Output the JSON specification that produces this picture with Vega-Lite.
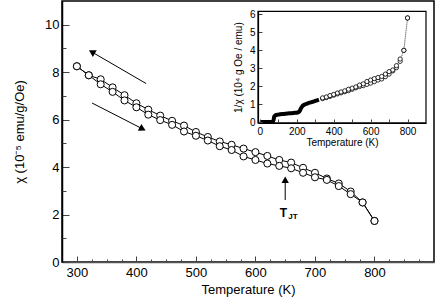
{
  "$schema": "https://vega.github.io/schema/vega-lite/v6.json",
  "width": 372,
  "height": 261,
  "autosize": "none",
  "padding": {"left": 62, "top": 1, "right": 2, "bottom": 37},
  "background": "white",
  "config": {
    "view": {"stroke": "black", "strokeWidth": 1.5},
    "font": "Liberation Sans",
    "axis": {"grid": false, "domainColor": "black", "tickColor": "#444", "labelColor": "black", "titleColor": "black", "titleFontWeight": "normal", "labelOverlap": false, "labelFlush": false}
  },
  "datasets": {
    "main": [
      {"T": 300, "chi": 8.25, "branch": "cooling"},
      {"T": 320, "chi": 7.87, "branch": "cooling"},
      {"T": 340, "chi": 7.70, "branch": "cooling"},
      {"T": 360, "chi": 7.36, "branch": "cooling"},
      {"T": 380, "chi": 7.03, "branch": "cooling"},
      {"T": 400, "chi": 6.69, "branch": "cooling"},
      {"T": 420, "chi": 6.42, "branch": "cooling"},
      {"T": 440, "chi": 6.17, "branch": "cooling"},
      {"T": 460, "chi": 5.95, "branch": "cooling"},
      {"T": 480, "chi": 5.75, "branch": "cooling"},
      {"T": 500, "chi": 5.48, "branch": "cooling"},
      {"T": 520, "chi": 5.27, "branch": "cooling"},
      {"T": 540, "chi": 5.08, "branch": "cooling"},
      {"T": 560, "chi": 4.94, "branch": "cooling"},
      {"T": 580, "chi": 4.78, "branch": "cooling"},
      {"T": 600, "chi": 4.63, "branch": "cooling"},
      {"T": 620, "chi": 4.47, "branch": "cooling"},
      {"T": 640, "chi": 4.30, "branch": "cooling"},
      {"T": 660, "chi": 4.19, "branch": "cooling"},
      {"T": 680, "chi": 3.97, "branch": "cooling"},
      {"T": 700, "chi": 3.76, "branch": "cooling"},
      {"T": 720, "chi": 3.52, "branch": "cooling"},
      {"T": 740, "chi": 3.31, "branch": "cooling"},
      {"T": 760, "chi": 2.97, "branch": "cooling"},
      {"T": 780, "chi": 2.51, "branch": "cooling"},
      {"T": 800, "chi": 1.73, "branch": "cooling"},
      {"T": 300, "chi": 8.25, "branch": "heating"},
      {"T": 320, "chi": 7.87, "branch": "heating"},
      {"T": 340, "chi": 7.49, "branch": "heating"},
      {"T": 360, "chi": 7.17, "branch": "heating"},
      {"T": 380, "chi": 6.81, "branch": "heating"},
      {"T": 400, "chi": 6.52, "branch": "heating"},
      {"T": 420, "chi": 6.21, "branch": "heating"},
      {"T": 440, "chi": 5.98, "branch": "heating"},
      {"T": 460, "chi": 5.78, "branch": "heating"},
      {"T": 480, "chi": 5.50, "branch": "heating"},
      {"T": 500, "chi": 5.32, "branch": "heating"},
      {"T": 520, "chi": 5.12, "branch": "heating"},
      {"T": 540, "chi": 4.88, "branch": "heating"},
      {"T": 560, "chi": 4.72, "branch": "heating"},
      {"T": 580, "chi": 4.45, "branch": "heating"},
      {"T": 600, "chi": 4.30, "branch": "heating"},
      {"T": 620, "chi": 4.15, "branch": "heating"},
      {"T": 640, "chi": 4.05, "branch": "heating"},
      {"T": 660, "chi": 3.95, "branch": "heating"},
      {"T": 680, "chi": 3.76, "branch": "heating"},
      {"T": 700, "chi": 3.57, "branch": "heating"},
      {"T": 720, "chi": 3.46, "branch": "heating"},
      {"T": 740, "chi": 3.20, "branch": "heating"},
      {"T": 760, "chi": 2.86, "branch": "heating"},
      {"T": 780, "chi": 2.51, "branch": "heating"},
      {"T": 800, "chi": 1.73, "branch": "heating"}
    ],
    "arrows": [
      {"T": 416.4, "chi": 7.52, "T2": 326, "chi2": 8.84},
      {"T": 325.5, "chi": 6.70, "T2": 409.6, "chi2": 5.62},
      {"T": 650, "chi": 2.61, "T2": 650, "chi2": 3.42}
    ],
    "dense": [
      {"T": 0, "inv": 0}, {"T": 20, "inv": 0}, {"T": 40, "inv": 0}, {"T": 60, "inv": 0},
      {"T": 70, "inv": 0.02}, {"T": 74, "inv": 0.1}, {"T": 78, "inv": 0.3}, {"T": 84, "inv": 0.37},
      {"T": 100, "inv": 0.41}, {"T": 130, "inv": 0.45}, {"T": 160, "inv": 0.48}, {"T": 190, "inv": 0.51},
      {"T": 205, "inv": 0.53}, {"T": 215, "inv": 0.6}, {"T": 222, "inv": 0.75}, {"T": 230, "inv": 0.88},
      {"T": 240, "inv": 0.96}, {"T": 260, "inv": 1.04}, {"T": 280, "inv": 1.1}, {"T": 300, "inv": 1.17},
      {"T": 320, "inv": 1.24}
    ],
    "inverse": [
      {"T": 340, "inv": 1.30, "branch": "cooling"}, {"T": 360, "inv": 1.36, "branch": "cooling"},
      {"T": 380, "inv": 1.42, "branch": "cooling"}, {"T": 400, "inv": 1.49, "branch": "cooling"},
      {"T": 420, "inv": 1.56, "branch": "cooling"}, {"T": 440, "inv": 1.62, "branch": "cooling"},
      {"T": 460, "inv": 1.68, "branch": "cooling"}, {"T": 480, "inv": 1.74, "branch": "cooling"},
      {"T": 500, "inv": 1.82, "branch": "cooling"}, {"T": 520, "inv": 1.90, "branch": "cooling"},
      {"T": 540, "inv": 1.97, "branch": "cooling"}, {"T": 560, "inv": 2.02, "branch": "cooling"},
      {"T": 580, "inv": 2.09, "branch": "cooling"}, {"T": 600, "inv": 2.16, "branch": "cooling"},
      {"T": 620, "inv": 2.24, "branch": "cooling"}, {"T": 640, "inv": 2.33, "branch": "cooling"},
      {"T": 660, "inv": 2.39, "branch": "cooling"}, {"T": 680, "inv": 2.52, "branch": "cooling"},
      {"T": 700, "inv": 2.66, "branch": "cooling"}, {"T": 720, "inv": 2.84, "branch": "cooling"},
      {"T": 740, "inv": 3.02, "branch": "cooling"}, {"T": 760, "inv": 3.37, "branch": "cooling"},
      {"T": 780, "inv": 3.98, "branch": "cooling"}, {"T": 800, "inv": 5.78, "branch": "cooling"},
      {"T": 340, "inv": 1.34, "branch": "heating"}, {"T": 360, "inv": 1.39, "branch": "heating"},
      {"T": 380, "inv": 1.47, "branch": "heating"}, {"T": 400, "inv": 1.53, "branch": "heating"},
      {"T": 420, "inv": 1.61, "branch": "heating"}, {"T": 440, "inv": 1.67, "branch": "heating"},
      {"T": 460, "inv": 1.73, "branch": "heating"}, {"T": 480, "inv": 1.82, "branch": "heating"},
      {"T": 500, "inv": 1.88, "branch": "heating"}, {"T": 520, "inv": 1.95, "branch": "heating"},
      {"T": 540, "inv": 2.05, "branch": "heating"}, {"T": 560, "inv": 2.12, "branch": "heating"},
      {"T": 580, "inv": 2.25, "branch": "heating"}, {"T": 600, "inv": 2.33, "branch": "heating"},
      {"T": 620, "inv": 2.41, "branch": "heating"}, {"T": 640, "inv": 2.47, "branch": "heating"},
      {"T": 660, "inv": 2.53, "branch": "heating"}, {"T": 680, "inv": 2.66, "branch": "heating"},
      {"T": 700, "inv": 2.80, "branch": "heating"}, {"T": 720, "inv": 2.89, "branch": "heating"},
      {"T": 740, "inv": 3.13, "branch": "heating"}, {"T": 760, "inv": 3.50, "branch": "heating"},
      {"T": 780, "inv": 3.98, "branch": "heating"}, {"T": 800, "inv": 5.78, "branch": "heating"}
    ]
  },
  "layer": [
    {
      "layer": [
        {
          "data": {"name": "main"},
          "mark": {"type": "line", "color": "black", "strokeWidth": 1},
          "encoding": {
            "x": {"field": "T", "type": "quantitative", "scale": {"domain": [275, 900], "nice": false, "zero": false},
              "axis": {"orient": "bottom", "title": "Temperature  (K)", "values": [300, 400, 500, 600, 700, 800],
                "tickSize": -6, "labelFontSize": 13, "titleFontSize": 13, "labelPadding": 10, "titlePadding": 4, "domainWidth": 1.5, "domainColor": "#555"}},
            "y": {"field": "chi", "type": "quantitative", "scale": {"domain": [0, 11], "nice": false},
              "axis": {"orient": "left", "title": "χ (10⁻⁵ emu/g/Oe)", "values": [0, 2, 4, 6, 8, 10],
                "tickSize": -7, "labelFontSize": 13, "titleFontSize": 13, "labelPadding": 10, "titlePadding": 18, "domainWidth": 1.5}},
            "detail": {"field": "branch"},
            "order": {"field": "T"}
          }
        },
        {
          "data": {"name": "main"},
          "mark": {"type": "point", "shape": "circle", "filled": true, "fill": "white", "stroke": "black", "strokeWidth": 1, "size": 50, "opacity": 1},
          "encoding": {
            "x": {"field": "T", "type": "quantitative",
              "axis": {"orient": "bottom", "title": null, "labels": false, "domain": false, "tickSize": -3,
                "values": [275, 325, 350, 375, 425, 450, 475, 525, 550, 575, 625, 650, 675, 725, 750, 775, 825, 850, 875]}},
            "y": {"field": "chi", "type": "quantitative",
              "axis": {"orient": "left", "title": null, "labels": false, "domain": false, "tickSize": -4, "values": [1, 3, 5, 7, 9]}}
          }
        },
        {
          "data": {"name": "arrows"},
          "mark": {"type": "rule", "color": "black", "strokeWidth": 1},
          "encoding": {
            "x": {"field": "T", "type": "quantitative", "axis": null},
            "y": {"field": "chi", "type": "quantitative", "axis": null},
            "x2": {"field": "T2"},
            "y2": {"field": "chi2"}
          }
        },
        {
          "data": {"values": [{}]},
          "mark": {"type": "point", "shape": "triangle-up", "filled": true, "color": "black", "opacity": 1, "size": 60, "angle": 300},
          "encoding": {"x": {"datum": 325.2, "type": "quantitative", "axis": null}, "y": {"datum": 8.85, "type": "quantitative", "axis": null}}
        },
        {
          "data": {"values": [{}]},
          "mark": {"type": "point", "shape": "triangle-up", "filled": true, "color": "black", "opacity": 1, "size": 60, "angle": 117},
          "encoding": {"x": {"datum": 410.4, "type": "quantitative", "axis": null}, "y": {"datum": 5.61, "type": "quantitative", "axis": null}}
        },
        {
          "data": {"values": [{}]},
          "mark": {"type": "point", "shape": "triangle-up", "filled": true, "color": "black", "opacity": 1, "size": 55, "angle": 0},
          "encoding": {"x": {"datum": 650, "type": "quantitative", "axis": null}, "y": {"datum": 3.47, "type": "quantitative", "axis": null}}
        },
        {
          "data": {"values": [{}]},
          "mark": {"type": "text", "text": "T", "font": "Liberation Sans", "fontWeight": "bold", "fontSize": 12, "color": "black"},
          "encoding": {"x": {"datum": 647, "type": "quantitative", "axis": null}, "y": {"datum": 2.08, "type": "quantitative", "axis": null}}
        },
        {
          "data": {"values": [{}]},
          "mark": {"type": "text", "text": "JT", "font": "Liberation Sans", "fontWeight": "bold", "fontSize": 8, "color": "black"},
          "encoding": {"x": {"datum": 663, "type": "quantitative", "axis": null}, "y": {"datum": 1.9, "type": "quantitative", "axis": null}}
        }
      ],
      "resolve": {"axis": {"x": "independent", "y": "independent"}}
    },
    {
      "layer": [
        {
          "data": {"values": [{}]},
          "mark": {"type": "rect", "fill": "white", "stroke": "black", "strokeWidth": 1.2},
          "encoding": {
            "x": {"datum": -10, "type": "quantitative", "scale": {"domain": [-10, 900], "range": [196, 364], "nice": false, "zero": false},
              "axis": {"orient": "bottom", "offset": -139, "zindex": 1, "title": "Temperature (K)", "values": [0, 100, 200, 300, 400, 500, 600, 700, 800],
                "labelExpr": "datum.value % 200 === 0 ? datum.label : ''", "tickSize": -4, "labelFontSize": 10, "titleFontSize": 10, "labelPadding": 7, "titlePadding": 1, "domainWidth": 1.2}},
            "x2": {"datum": 900},
            "y": {"datum": -0.05, "type": "quantitative", "scale": {"domain": [-0.05, 6.15], "range": [121.9, 10.3], "nice": false, "zero": false},
              "axis": {"orient": "left", "offset": -196, "zindex": 1, "title": "1/χ (10⁴ g Oe / emu)", "values": [0, 1, 2, 3, 4, 5, 6],
                "tickSize": -4, "labelFontSize": 10, "titleFontSize": 10, "labelPadding": 7, "titlePadding": 6, "domainWidth": 1.2}},
            "y2": {"datum": 6.15}
          }
        },
        {
          "data": {"name": "dense"},
          "mark": {"type": "line", "color": "black", "strokeWidth": 4, "interpolate": "monotone"},
          "encoding": {
            "x": {"field": "T", "type": "quantitative"},
            "y": {"field": "inv", "type": "quantitative"}
          }
        },
        {
          "data": {"name": "inverse"},
          "mark": {"type": "line", "color": "#444", "strokeWidth": 0.6, "strokeDash": [1, 1]},
          "encoding": {
            "x": {"field": "T", "type": "quantitative"},
            "y": {"field": "inv", "type": "quantitative"},
            "detail": {"field": "branch"},
            "order": {"field": "T"}
          }
        },
        {
          "data": {"name": "inverse"},
          "mark": {"type": "point", "shape": "circle", "filled": true, "fill": "white", "stroke": "black", "strokeWidth": 0.8, "size": 18, "opacity": 1},
          "encoding": {
            "x": {"field": "T", "type": "quantitative"},
            "y": {"field": "inv", "type": "quantitative"}
          }
        }
      ]
    }
  ],
  "resolve": {"scale": {"x": "independent", "y": "independent"}}
}
